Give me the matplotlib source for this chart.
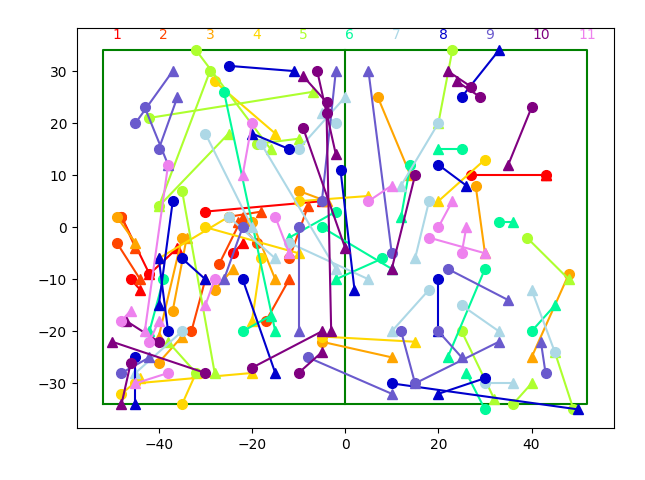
import matplotlib
matplotlib.use("Agg")
import matplotlib.pyplot as plt

colors = ['red', 'orangered', 'orange', 'gold', 'greenyellow', 'mediumspringgreen',
          'lightblue', 'mediumblue', 'slateblue', 'purple', 'violet']
labels = [str(i) for i in range(1, 12)]
label_x = [-49, -39, -29, -19, -9, 1, 11, 21, 31, 42, 52]
label_y = 37

# each segment: (x_start, y_start, x_end, y_end); circle at start, triangle at end
segments = {
    'red': [(43, 10, 43, 10), (-42, -9, -36, -4), (-30, 3, -5, 5), (-48, 2, -42, -9),
            (27, 10, 43, 10), (-24, -5, -22, -3), (-46, -10, -44, -12)],
    'orangered': [(-49, -3, -44, -10), (-27, -7, -22, 2), (-19, -3, -23, 1), (-48, 2, -45, -4),
                  (-12, -6, -8, 4), (-33, -20, -30, -10), (-17, -18, -12, -10),
                  (-25, 2, -18, 3)],
    'orange': [(-35, -2, -40, -21), (-20, 1, -15, -10), (-10, 7, -4, 5), (7, 25, 14, 10),
                (48, -9, 40, -25), (28, 8, 30, -5), (-49, 2, -45, -3), (-37, -16, -34, -2),
                (-28, -12, -24, -8), (-5, -22, 10, -25), (-40, -26, -35, -21)],
    'gold': [(-35, -34, -32, -28), (-45, -30, -20, -28), (-5, -21, 15, -22), (-25, 2, -40, -6),
             (-10, 5, 5, 6), (30, 13, 20, 5), (-18, -6, -20, -18), (-28, 28, -15, 18),
             (-30, 0, -10, -5), (-48, -32, -44, -29)],
    'greenyellow': [(-32, 34, -16, 15), (-29, 30, -40, 4), (-42, 21, -7, 26), (-19, 16, -10, 17),
                     (49, -35, 45, -24), (39, -2, 48, -10), (23, 34, 20, 20), (-40, 4, -25, 18),
                     (-35, 7, -28, -28), (25, -20, 32, -33), (-32, -28, -38, -22), (36, -34, 40, -30)],
    'mediumspringgreen': [(-26, 26, -15, -20), (-39, -10, -42, -20), (14, 12, 12, 2),
                          (25, 15, 20, 15), (-5, 0, 10, -8), (30, -8, 22, -25), (33, 1, 36, 1),
                          (8, -6, -2, -10), (-2, 3, -12, -2), (30, -35, 26, -28),
                          (-22, -20, -16, -17), (40, -20, 45, -15)],
    'lightblue': [(-30, 18, -20, 0), (-18, 16, -2, -8), (-25, 2, -15, -6), (-2, 20, -5, 22),
                  (20, 20, 12, 8), (18, 5, 15, -6), (25, -15, 33, -20), (-35, -20, -45, -28),
                  (18, -12, 10, -20), (30, -30, 36, -30), (45, -24, 40, -12),
                  (-12, -3, 5, -10), (-10, 15, 0, 25)],
    'mediumblue': [(-25, 31, -11, 30), (-12, 15, -20, 18), (-1, 11, 2, -12), (-38, -20, -40, -6),
                   (-45, -25, -45, -34), (-37, 5, -40, -15), (25, 25, 33, 34),
                   (20, -10, 20, -20), (10, -30, 50, -35), (30, -29, 20, -32), (-22, -10, -15, -28),
                   (-35, -6, -30, -10), (20, 12, 26, 8)],
    'slateblue': [(-45, 20, -37, 30), (-43, 23, -38, 12), (-40, 15, -36, 25), (-22, 0, -26, -10),
                  (-10, 0, -10, -20), (-5, 5, -2, 30), (10, -5, 5, 30), (20, -20, 25, -25),
                  (15, -30, 33, -22), (43, -28, 42, -22), (-48, -28, -42, -25),
                  (-8, -25, 10, -32), (12, -20, 15, -30), (22, -8, 35, -14)],
    'purple': [(-4, 24, -9, 29), (-6, 30, -2, 14), (-9, 19, 0, -4), (-4, 22, -3, -20),
               (27, 27, 22, 30), (40, 23, 35, 12), (29, 25, 24, 28), (-30, -28, -50, -22),
               (-46, -26, -48, -34), (-20, -27, -5, -20), (-40, -22, -47, -18),
               (15, 10, 10, -8), (-10, -28, -5, -24)],
    'violet': [(-38, 12, -43, -20), (-48, -18, -46, -16), (-42, -22, -40, -18), (-20, 20, -22, 10),
               (20, 0, 23, 5), (25, -5, 26, 0), (-15, 2, -12, -5), (-28, -10, -30, -15),
               (18, -2, 30, -5), (5, 5, 10, 8), (-38, -28, -45, -30)],
}

fig = plt.figure(figsize=(6.45, 4.8), dpi=100)
ax = fig.add_axes([0.119, 0.108, 0.833, 0.834])

# field outline and halfway line
ax.plot([-52, 52, 52, -52, -52], [-34, -34, 34, 34, -34], color='green')
ax.plot([0, 0], [-34, 34], color='green')

for c in colors:
    for x0, y0, x1, y1 in segments[c]:
        ax.plot([x0, x1], [y0, y1], color=c, linewidth=1.5)
        ax.plot(x0, y0, 'o', color=c, markersize=7)
        ax.plot(x1, y1, '^', color=c, markersize=7)

for lab, lx, c in zip(labels, label_x, colors):
    ax.text(lx, label_y, lab, color=c, ha='center', va='center', fontsize=10)

ax.set_xlim(-57.6, 57.7)
ax.set_ylim(-38.6, 38.3)
fig.savefig('out.png')
